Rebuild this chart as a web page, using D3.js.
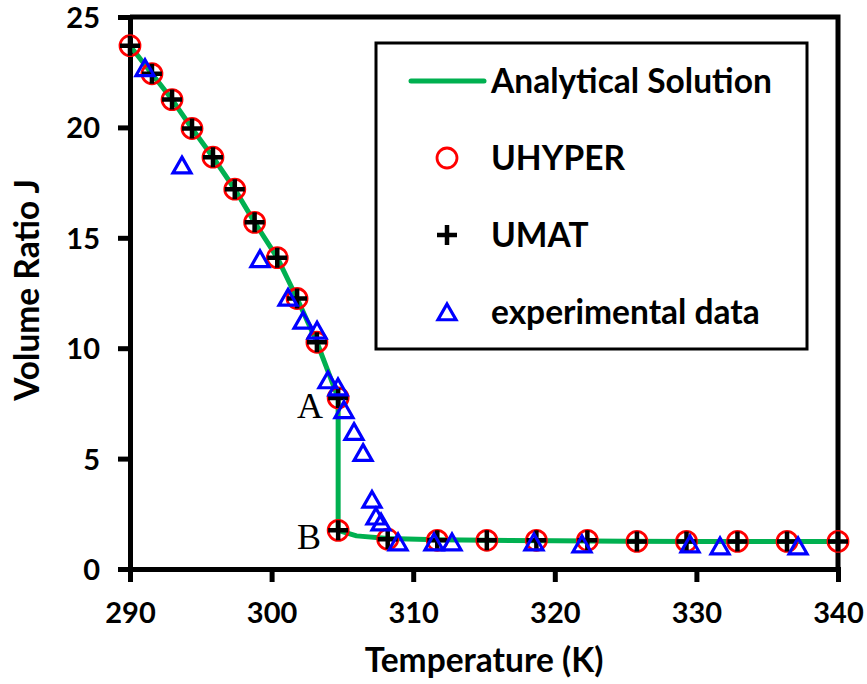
<!DOCTYPE html>
<html>
<head>
<meta charset="utf-8">
<script src="https://cdn.jsdelivr.net/npm/d3@7"></script>
<style>
  body { margin: 0; background: #fff; }
  text { font-family: Lato, "Open Sans", sans-serif; font-weight: bold; }
</style>
</head>
<body>
<div id="chart"></div>
<script>
// simulated results (UHYPER and UMAT sit on the same points)
var simTemp = [290, 291.55, 292.97, 294.38, 295.86, 297.4, 298.8, 300.4, 301.8, 303.2, 304.7,
  304.7, 308.2, 311.7, 315.2, 318.7, 322.3, 325.8, 329.3, 332.9, 336.4, 340];
var simJ = [23.7, 22.43, 21.26, 19.95, 18.65, 17.2, 15.7, 14.1, 12.25, 10.27, 7.75,
  1.75, 1.35, 1.3, 1.3, 1.3, 1.3, 1.25, 1.25, 1.25, 1.25, 1.25];
// analytical solution curve
var anaTemp = [290, 291.55, 292.97, 294.38, 295.86, 297.4, 298.8, 300.4, 301.8, 303.2, 304.7,
  304.7, 306.0, 308.2, 311.7, 315.2, 320, 325, 330, 335, 340];
var anaJ = [23.7, 22.43, 21.26, 19.95, 18.65, 17.2, 15.7, 14.1, 12.25, 10.27, 7.75,
  1.75, 1.5, 1.38, 1.32, 1.3, 1.28, 1.26, 1.25, 1.25, 1.25];
// experimental data
var expTemp = [291.06, 293.67, 299.18, 301.16, 302.22, 303.21, 303.98, 304.69, 305.11, 305.82,
  306.46, 307.09, 307.37, 307.73, 308.93, 311.47, 312.74, 318.53, 321.92, 329.55, 331.67, 337.18];
var expJ = [22.7, 18.29, 14.05, 12.3, 11.26, 10.81, 8.56, 8.24, 7.21, 6.22,
  5.27, 3.15, 2.39, 2.12, 1.22, 1.22, 1.22, 1.22, 1.13, 1.13, 1.04, 1.04];
var xTicks = [290, 300, 310, 320, 330, 340];
var yTicks = [0, 5, 10, 15, 20, 25];
var legendLabels = ["Analytical Solution", "UHYPER", "UMAT", "experimental data"];

var w = 867, h = 684;
var green = "#00b050";

var svg = d3.select("#chart").append("svg")
  .attr("width", w)
  .attr("height", h);

var x = d3.scaleLinear().domain([290, 340]).range([130, 838]);
var y = d3.scaleLinear().domain([0, 25]).range([569, 17]);

// frame: top and right border
svg.append("path")
  .attr("d", "M" + x(290) + "," + y(25) + "H" + x(340) + "V" + y(0))
  .attr("fill", "none")
  .attr("stroke", "#000")
  .attr("stroke-width", 5);

// axes
var xAxis = svg.append("g")
  .attr("transform", "translate(0," + y(0) + ")")
  .call(d3.axisBottom(x).tickValues(xTicks).tickSize(13).tickPadding(41));
var yAxis = svg.append("g")
  .attr("transform", "translate(" + x(290) + ",0)")
  .call(d3.axisLeft(y).tickValues(yTicks).tickSize(12).tickPadding(18));
[xAxis, yAxis].forEach(function (g) {
  g.select(".domain").attr("stroke-width", 5).attr("stroke", "#000");
  g.selectAll(".tick line").attr("stroke-width", 5).attr("stroke", "#000");
  g.selectAll(".tick text")
    .attr("fill", "#000")
    .style("font-size", "29px")
    .style("font-family", "Lato, sans-serif")
    .style("font-weight", "bold");
});
xAxis.selectAll(".tick text").attr("dy", "0");
yAxis.selectAll(".tick text").attr("dy", "0.36em");

// axis titles
svg.append("text")
  .attr("x", (x(290) + x(340)) / 2)
  .attr("y", 672)
  .attr("text-anchor", "middle")
  .style("font-size", "33.5px")
  .text("Temperature (K)");
svg.append("text")
  .attr("transform", "translate(39," + 290 + ") rotate(-90)")
  .attr("text-anchor", "middle")
  .style("font-size", "33.5px")
  .text("Volume Ratio J");

// analytical line
var line = d3.line()
  .x(function (d, i) { return x(anaTemp[i]); })
  .y(function (d, i) { return y(anaJ[i]); });
svg.append("path")
  .datum(anaTemp)
  .attr("d", line)
  .attr("fill", "none")
  .attr("stroke", green)
  .attr("stroke-width", 5)
  .attr("stroke-linejoin", "round");

// marker helpers
function drawCircle(g, cx, cy) {
  g.append("circle")
    .attr("cx", cx).attr("cy", cy).attr("r", 10)
    .attr("fill", "none").attr("stroke", "#ff0000").attr("stroke-width", 2.8);
}
function drawPlus(g, cx, cy) {
  g.append("path")
    .attr("d", "M" + (cx - 10) + "," + cy + "H" + (cx + 10) + "M" + cx + "," + (cy - 10) + "V" + (cy + 10))
    .attr("stroke", "#000").attr("stroke-width", 4.5).attr("fill", "none");
}
function drawTri(g, cx, cy) {
  var s = 9;
  g.append("path")
    .attr("d", "M" + cx + "," + (cy - s) + "L" + (cx + s) + "," + (cy + s * 0.75) + "L" + (cx - s) + "," + (cy + s * 0.75) + "Z")
    .attr("stroke", "#0000ff").attr("stroke-width", 3.2).attr("fill", "none")
    .attr("stroke-linejoin", "miter");
}

var marks = svg.append("g");
simTemp.forEach(function (t, i) { drawCircle(marks, x(t), y(simJ[i])); });
simTemp.forEach(function (t, i) { drawPlus(marks, x(t), y(simJ[i])); });
expTemp.forEach(function (t, i) { drawTri(marks, x(t), y(expJ[i]) + 1); });

// point labels A and B
svg.append("text")
  .attr("x", 297).attr("y", 418)
  .style("font-family", "'Liberation Serif', serif")
  .style("font-weight", "normal")
  .style("font-size", "36px")
  .text("A");
svg.append("text")
  .attr("x", 297).attr("y", 549)
  .style("font-family", "'Liberation Serif', serif")
  .style("font-weight", "normal")
  .style("font-size", "36px")
  .text("B");

// legend
var legend = svg.append("g");
legend.append("rect")
  .attr("x", 376).attr("y", 43)
  .attr("width", 431).attr("height", 306)
  .attr("fill", "#fff").attr("stroke", "#000").attr("stroke-width", 3);
var rowY = [81, 158, 235, 312];
legend.append("line")
  .attr("x1", 411).attr("x2", 484)
  .attr("y1", rowY[0]).attr("y2", rowY[0])
  .attr("stroke", green).attr("stroke-width", 5).attr("stroke-linecap", "round");
drawCircle(legend, 447, rowY[1]);
drawPlus(legend, 447, rowY[2]);
drawTri(legend, 447, rowY[3] + 1);
legendLabels.forEach(function (lab, i) {
  legend.append("text")
    .attr("x", 491).attr("y", rowY[i])
    .attr("dy", "0.35em")
    .style("font-size", "33.5px")
    .text(lab);
});
</script>
</body>
</html>
